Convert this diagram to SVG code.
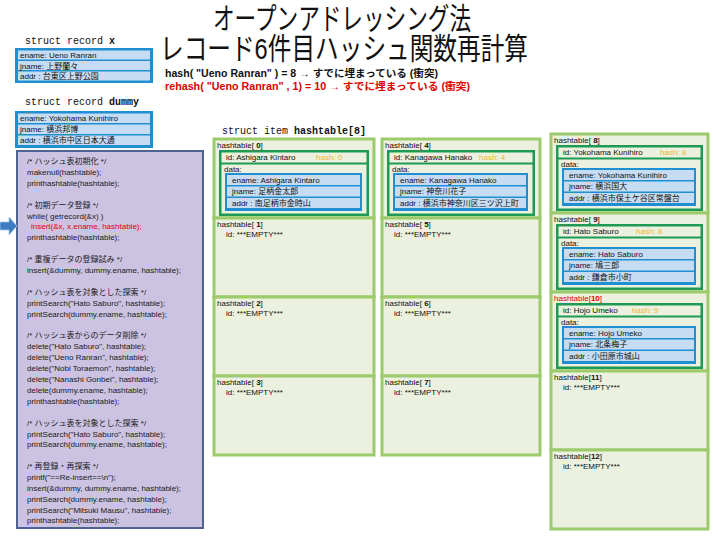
<svg xmlns="http://www.w3.org/2000/svg" width="720" height="540" viewBox="0 0 720 540">
<defs>
<style>
text{font-family:"Liberation Sans","Noto Sans CJK JP",sans-serif;fill:#111;}
.mono{font-family:"Liberation Mono","Noto Sans CJK JP",monospace;font-size:10px;}
.t{font-size:8px;}
.code{font-size:8px;fill:#1a1a1a;}
.red{fill:#e00000;}
.b{font-weight:bold;}
.cell{fill:#ebf0df;stroke:#9ccb6b;stroke-width:3;}
.frame{fill:#1e9a55;}
.lite{fill:#ebf0df;}
.blue{fill:#1f8fd2;}
.row{fill:#c5dcf3;}
.hash{fill:#f0b830;font-size:8px;}
</style>
</defs>
<rect width="720" height="540" fill="#fff"/>

<!-- title -->
<g id="title">
<text x="342" y="29" font-size="30" text-anchor="middle" textLength="258" lengthAdjust="spacingAndGlyphs">オープンアドレッシング法</text>
<text x="344" y="59" font-size="30" text-anchor="middle" textLength="368" lengthAdjust="spacingAndGlyphs">レコード6件目ハッシュ関数再計算</text>
<text x="165" y="77" font-size="10" class="b" textLength="273" lengthAdjust="spacingAndGlyphs">hash( "Ueno Ranran" ) = 8 → すでに埋まっている (衝突)</text>
<text x="165" y="90" font-size="10" class="b red" textLength="305" lengthAdjust="spacingAndGlyphs">rehash( "Ueno Ranran" , 1) = 10 → すでに埋まっている (衝突)</text>
</g>

<!-- record x -->
<g id="record-x">
<text x="25" y="44" class="mono">struct record <tspan class="b">x</tspan></text>
<rect x="15" y="48" width="138" height="35" class="blue"/>
<rect x="18" y="50.5" width="132" height="9" class="row"/>
<rect x="18" y="61" width="132" height="9" class="row"/>
<rect x="18" y="71.5" width="132" height="9" class="row"/>
<text x="20" y="58" class="t">ename: Ueno Ranran</text>
<text x="20" y="68.5" class="t">jname: 上野蘭々</text>
<text x="20" y="79" class="t">addr : 台東区上野公園</text>
</g>

<!-- record dummy -->
<g id="record-dummy">
<text x="25" y="105" class="mono">struct record <tspan class="b">dummy</tspan></text>
<rect x="15" y="111" width="138" height="37" class="blue"/>
<rect x="18" y="113.5" width="132" height="9.5" class="row"/>
<rect x="18" y="124.5" width="132" height="9.5" class="row"/>
<rect x="18" y="135.5" width="132" height="9.5" class="row"/>
<text x="20" y="121" class="t">ename: Yokohama Kunihiro</text>
<text x="20" y="132" class="t">jname: 横浜邦博</text>
<text x="20" y="143" class="t">addr : 横浜市中区日本大通</text>
</g>

<!-- code -->
<g id="code">
<rect x="17" y="151" width="186" height="377" fill="#ccc3e2" stroke="#4f6390" stroke-width="2"/>
<text class="code" x="27" y="164">/* ハッシュ表初期化 */</text>
<text class="code" x="27" y="174.9">makenull(hashtable);</text>
<text class="code" x="27" y="185.8">printhashtable(hashtable);</text>
<text class="code" x="27" y="207.6">/* 初期データ登録 */</text>
<text class="code" x="27" y="218.5">while( getrecord(&amp;x) )</text>
<text class="code red" x="31" y="229.4">insert(&amp;x, x.ename, hashtable);</text>
<text class="code" x="27" y="240.3">printhashtable(hashtable);</text>
<text class="code" x="27" y="262.1">/* 重複データの登録試み */</text>
<text class="code" x="27" y="273">insert(&amp;dummy, dummy.ename, hashtable);</text>
<text class="code" x="27" y="294.8">/* ハッシュ表を対象とした探索 */</text>
<text class="code" x="27" y="305.7">printSearch("Hato Saburo", hashtable);</text>
<text class="code" x="27" y="316.6">printSearch(dummy.ename, hashtable);</text>
<text class="code" x="27" y="338.4">/* ハッシュ表からのデータ削除 */</text>
<text class="code" x="27" y="349.3">delete("Hato Saburo", hashtable);</text>
<text class="code" x="27" y="360.2">delete("Ueno Ranran", hashtable);</text>
<text class="code" x="27" y="371.1">delete("Nobi Toraemon", hashtable);</text>
<text class="code" x="27" y="382">delete("Nanashi Gonbei", hashtable);</text>
<text class="code" x="27" y="392.9">delete(dummy.ename, hashtable);</text>
<text class="code" x="27" y="403.8">printhashtable(hashtable);</text>
<text class="code" x="27" y="425.6">/* ハッシュ表を対象とした探索 */</text>
<text class="code" x="27" y="436.5">printSearch("Hato Saburo", hashtable);</text>
<text class="code" x="27" y="447.4">printSearch(dummy.ename, hashtable);</text>
<text class="code" x="27" y="469.2">/* 再登録・再探索 */</text>
<text class="code" x="27" y="480.1">printf("==Re-insert==\n");</text>
<text class="code" x="27" y="491">insert(&amp;dummy, dummy.ename, hashtable);</text>
<text class="code" x="27" y="501.9">printSearch(dummy.ename, hashtable);</text>
<text class="code" x="27" y="512.8">printSearch("Mitsuki Mausu", hashtable);</text>
<text class="code" x="27" y="523.2">printhashtable(hashtable);</text>
</g>

<g id="connectors">
<polygon points="0,222 9,222 9,217 17,226 9,235 9,230 0,230" fill="#3d7cc0" stroke="#a9c8e8" stroke-width="0.8"/>
</g>

<!-- hashtable header -->
<g id="hashtable-title">
<text x="222" y="134" class="mono">struct item <tspan class="b">hashtable[8]</tspan></text>
</g>

<!-- column 1 -->
<g id="ht0" transform="translate(214,139)">
<rect class="cell" width="160" height="79"/>
<text class="t" x="3" y="9">hashtable[ <tspan class="b">0</tspan>]</text>
<rect class="frame" x="5" y="11" width="150" height="66"/>
<rect class="lite" x="7.5" y="13.5" width="145" height="10"/>
<rect class="lite" x="7.5" y="25.5" width="145" height="49"/>
<text class="t" x="12" y="21">id: Ashigara Kintaro</text>
<text class="hash" x="102" y="21">hash: 0</text>
<text class="t" x="10" y="32.5">data:</text>
<rect class="blue" x="11" y="34" width="137" height="38"/>
<rect class="row" x="13" y="36" width="133" height="10"/>
<rect class="row" x="13" y="47.5" width="133" height="10"/>
<rect class="row" x="13" y="59" width="133" height="10"/>
<text class="t" x="18" y="43.5">ename: Ashigara Kintaro</text>
<text class="t" x="18" y="55">jname: 足柄金太郎</text>
<text class="t" x="18" y="66.5">addr : 南足柄市金時山</text>
</g>
<g id="ht1" transform="translate(214,218)">
<rect class="cell" width="160" height="79"/>
<text class="t" x="3" y="9">hashtable[ <tspan class="b">1</tspan>]</text>
<text class="t" x="12" y="19">id: ***EMPTY***</text>
</g>
<g id="ht2" transform="translate(214,297)">
<rect class="cell" width="160" height="79"/>
<text class="t" x="3" y="9">hashtable[ <tspan class="b">2</tspan>]</text>
<text class="t" x="12" y="19">id: ***EMPTY***</text>
</g>
<g id="ht3" transform="translate(214,376)">
<rect class="cell" width="160" height="79"/>
<text class="t" x="3" y="9">hashtable[ <tspan class="b">3</tspan>]</text>
<text class="t" x="12" y="19">id: ***EMPTY***</text>
</g>

<!-- column 2 -->
<g id="ht4" transform="translate(382,139)">
<rect class="cell" width="158" height="79"/>
<text class="t" x="3" y="9">hashtable[ <tspan class="b">4</tspan>]</text>
<rect class="frame" x="5" y="11" width="148" height="66"/>
<rect class="lite" x="7.5" y="13.5" width="143" height="10"/>
<rect class="lite" x="7.5" y="25.5" width="143" height="49"/>
<text class="t" x="12" y="21">id: Kanagawa Hanako</text>
<text class="hash" x="97" y="21">hash: 4</text>
<text class="t" x="10" y="32.5">data:</text>
<rect class="blue" x="11" y="34" width="135" height="38"/>
<rect class="row" x="13" y="36" width="131" height="10"/>
<rect class="row" x="13" y="47.5" width="131" height="10"/>
<rect class="row" x="13" y="59" width="131" height="10"/>
<text class="t" x="18" y="43.5">ename: Kanagawa Hanako</text>
<text class="t" x="18" y="55">jname: 神奈川花子</text>
<text class="t" x="18" y="66.5">addr : 横浜市神奈川区三ツ沢上町</text>
</g>
<g id="ht5" transform="translate(382,218)">
<rect class="cell" width="158" height="79"/>
<text class="t" x="3" y="9">hashtable[ <tspan class="b">5</tspan>]</text>
<text class="t" x="12" y="19">id: ***EMPTY***</text>
</g>
<g id="ht6" transform="translate(382,297)">
<rect class="cell" width="158" height="79"/>
<text class="t" x="3" y="9">hashtable[ <tspan class="b">6</tspan>]</text>
<text class="t" x="12" y="19">id: ***EMPTY***</text>
</g>
<g id="ht7" transform="translate(382,376)">
<rect class="cell" width="158" height="79"/>
<text class="t" x="3" y="9">hashtable[ <tspan class="b">7</tspan>]</text>
<text class="t" x="12" y="19">id: ***EMPTY***</text>
</g>

<!-- column 3 -->
<g id="ht8" transform="translate(551,134)">
<rect class="cell" width="157" height="79"/>
<text class="t" x="3" y="9">hashtable[ <tspan class="b">8</tspan>]</text>
<rect class="frame" x="5" y="11" width="147" height="66"/>
<rect class="lite" x="7.5" y="13.5" width="142" height="10"/>
<rect class="lite" x="7.5" y="25.5" width="142" height="49"/>
<text class="t" x="12" y="21">id: Yokohama Kunihiro</text>
<text class="hash" x="109" y="21">hash: 8</text>
<text class="t" x="10" y="32.5">data:</text>
<rect class="blue" x="11" y="34" width="134" height="38"/>
<rect class="row" x="13" y="36" width="130" height="10"/>
<rect class="row" x="13" y="47.5" width="130" height="10"/>
<rect class="row" x="13" y="59" width="130" height="10"/>
<text class="t" x="18" y="43.5">ename: Yokohama Kunihiro</text>
<text class="t" x="18" y="55">jname: 横浜国大</text>
<text class="t" x="18" y="66.5">addr : 横浜市保土ケ谷区常盤台</text>
</g>
<g id="ht9" transform="translate(551,213)">
<rect class="cell" width="157" height="79"/>
<text class="t" x="3" y="9">hashtable[ <tspan class="b">9</tspan>]</text>
<rect class="frame" x="5" y="11" width="147" height="66"/>
<rect class="lite" x="7.5" y="13.5" width="142" height="10"/>
<rect class="lite" x="7.5" y="25.5" width="142" height="49"/>
<text class="t" x="12" y="21">id: Hato Saburo</text>
<text class="hash" x="85" y="21">hash: 8</text>
<text class="t" x="10" y="32.5">data:</text>
<rect class="blue" x="11" y="34" width="134" height="38"/>
<rect class="row" x="13" y="36" width="130" height="10"/>
<rect class="row" x="13" y="47.5" width="130" height="10"/>
<rect class="row" x="13" y="59" width="130" height="10"/>
<text class="t" x="18" y="43.5">ename: Hato Saburo</text>
<text class="t" x="18" y="55">jname: 鳩三郎</text>
<text class="t" x="18" y="66.5">addr : 鎌倉市小町</text>
</g>
<g id="ht10" transform="translate(551,292)">
<rect class="cell" width="157" height="79"/>
<text class="t red" x="3" y="9">hashtable[<tspan class="b">10</tspan>]</text>
<rect class="frame" x="5" y="11" width="147" height="66"/>
<rect class="lite" x="7.5" y="13.5" width="142" height="10"/>
<rect class="lite" x="7.5" y="25.5" width="142" height="49"/>
<text class="t" x="12" y="21">id: Hojo Umeko</text>
<text class="hash" x="81" y="21">hash: 9</text>
<text class="t" x="10" y="32.5">data:</text>
<rect class="blue" x="11" y="34" width="134" height="38"/>
<rect class="row" x="13" y="36" width="130" height="10"/>
<rect class="row" x="13" y="47.5" width="130" height="10"/>
<rect class="row" x="13" y="59" width="130" height="10"/>
<text class="t" x="18" y="43.5">ename: Hojo Umeko</text>
<text class="t" x="18" y="55">jname: 北条梅子</text>
<text class="t" x="18" y="66.5">addr : 小田原市城山</text>
</g>
<g id="ht11" transform="translate(551,371)">
<rect class="cell" width="157" height="79"/>
<text class="t" x="3" y="9">hashtable[<tspan class="b">11</tspan>]</text>
<text class="t" x="12" y="19">id: ***EMPTY***</text>
</g>
<g id="ht12" transform="translate(551,450)">
<rect class="cell" width="157" height="79"/>
<text class="t" x="3" y="9">hashtable[<tspan class="b">12</tspan>]</text>
<text class="t" x="12" y="19">id: ***EMPTY***</text>
</g>
</svg>
